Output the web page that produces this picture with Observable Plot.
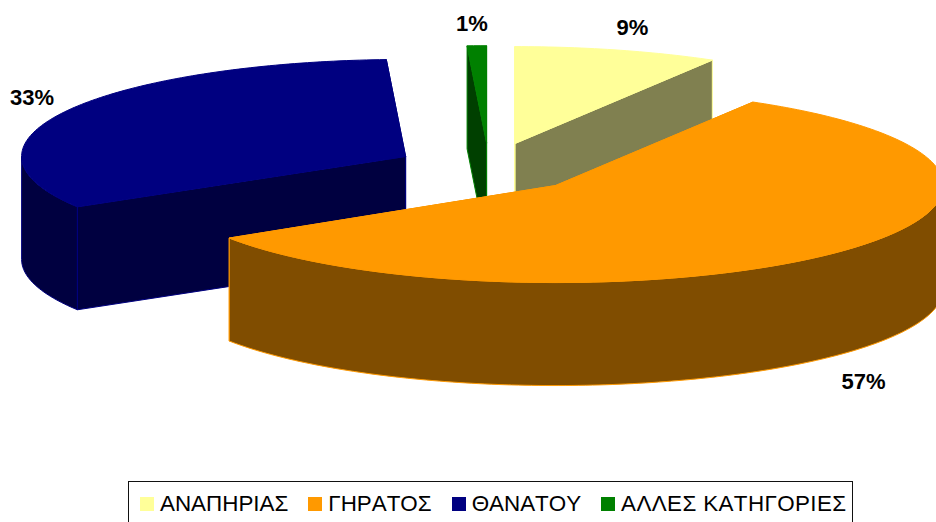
<!DOCTYPE html>
<html>
<head>
<meta charset="utf-8">
<script src="https://cdn.jsdelivr.net/npm/d3@7"></script>
<script src="https://cdn.jsdelivr.net/npm/@observablehq/plot@0.6"></script>
<style>
  html, body { margin: 0; padding: 0; background: #fff; overflow: hidden; }
  #wrap { width: 936px; height: 522px; overflow: hidden; position: relative; }
  svg { display: block; }
  #legend {
    box-sizing: border-box; margin-left: 128px; width: 725px; height: 60px;
    border: 1.5px solid #111; padding: 7px 0 0 11px; display: flex; align-items: flex-start;
    font: 22.4px "Liberation Sans", Arial, sans-serif; font-kerning: none; color: #000; white-space: nowrap; line-height: 30px;
  }
  #legend .sw { display: inline-block; width: 14px; height: 14px; margin: 8px 6px 0 0; flex: none; }
  #legend .lb { margin-right: 20px; }
  #legend .lb:last-child { letter-spacing: 0.38px; margin-right: 0; }
</style>
</head>
<body>
<div id="wrap"><div id="chart"></div><div id="legend"></div></div>
<script>
const categories = ["ΑΝΑΠΗΡΙΑΣ", "ΓΗΡΑΤΟΣ", "ΘΑΝΑΤΟΥ", "ΑΛΛΕΣ ΚΑΤΗΓΟΡΙΕΣ"];
const shares     = [8.5, 57.4, 33.3, 0.8];
const pctLabels  = ["9%", "57%", "33%", "1%"];
const topColors  = ["#ffff99", "#ff9900", "#000080", "#008000"];
const sideColors = ["#808050", "#804d00", "#000040", "#004000"];

// Pie projection (separate from the data)
const W = 936, H = 481;
const pie = {cx: 488.4, cy: 167.5, ry: 97, depth: 103, explodeX: 92.5, explodeY: 25.3};
const sliceRx = [388, 388, 384, 388];
const apexNudge = [1.5, 0, -1, 0];
const startNudge = [0, 0, 1.5, 0];
const labelRadius = {x: 429, y: 122};
const labelNudge = [[4.5, 2], [-1, 9], [8, -3], [-4, 3]];
const drawOrder = [2, 3, 0, 1];

const rad = d => d * Math.PI / 180;
let acc = 0;
const slices = shares.map((v, i) => {
  const a0 = acc; acc += v * 3.6;
  const a1 = acc, mid = (a0 + a1) / 2;
  return {
    i, a0: a0 + startNudge[i], a1, mid, rx: sliceRx[i],
    ax: pie.cx + pie.explodeX * Math.sin(rad(mid)) + apexNudge[i],
    ay: pie.cy - pie.explodeY * Math.cos(rad(mid))
  };
});
const rim = (s, a, dz = 0) => [s.ax + s.rx * Math.sin(rad(a)), s.ay - pie.ry * Math.cos(rad(a)) + dz];

const points = [];
function poly(id, pts, fill, stroke) {
  [...pts, pts[0]].forEach(([x, y]) => points.push({id, x, y, fill, stroke}));
}
function arc(s, a0, a1, dz = 0) {
  const out = [];
  const n = Math.max(1, Math.ceil(a1 - a0));
  for (let k = 0; k <= n; k++) out.push(rim(s, a0 + (a1 - a0) * k / n, dz));
  return out;
}
for (const idx of drawOrder) {
  const s = slices[idx], top = topColors[idx], side = sideColors[idx];
  const apex = [s.ax, s.ay], apexB = [s.ax, s.ay + pie.depth];
  // inner radial walls: the far one first
  poly(`${idx}-end`, [apex, rim(s, s.a1), rim(s, s.a1, pie.depth), apexB], side, top);
  poly(`${idx}-start`, [apex, rim(s, s.a0), rim(s, s.a0, pie.depth), apexB], side, top);
  // outer wall where it faces the viewer
  const f0 = Math.max(s.a0, 90), f1 = Math.min(s.a1, 270);
  if (f1 > f0) poly(`${idx}-outer`, [...arc(s, f0, f1), ...arc(s, f0, f1, pie.depth).reverse()], side, top);
  // top face
  poly(`${idx}-top`, [apex, ...arc(s, s.a0, s.a1)], top, top);
}

const labels = slices.map((s, i) => {
  const c = Math.cos(rad(s.mid));
  return {
    text: pctLabels[i],
    x: s.ax + labelRadius.x * Math.sin(rad(s.mid)) + labelNudge[i][0],
    y: s.ay - labelRadius.y * c + (c < 0 ? pie.depth : 0) + labelNudge[i][1]
  };
});

const chart = Plot.plot({
  width: W, height: H,
  margin: 0,
  x: {domain: [0, W], range: [0, W], axis: null},
  y: {domain: [0, H], range: [0, H], axis: null},
  marks: [
    Plot.line(points, {x: "x", y: "y", z: "id", fill: "fill", stroke: "stroke", strokeWidth: 1, curve: "linear", strokeLinejoin: "miter"}),
    Plot.text(labels, {x: "x", y: "y", text: "text", fontSize: 22, fontWeight: "bold", fontFamily: "Liberation Sans, Arial, sans-serif", fill: "#000"})
  ]
});
chart.style.background = "#fff";
document.getElementById("chart").appendChild(chart);

const legend = document.getElementById("legend");
categories.forEach((c, i) => {
  const sw = document.createElement("span"); sw.className = "sw"; sw.style.background = topColors[i];
  const lb = document.createElement("span"); lb.className = "lb"; lb.textContent = c;
  legend.append(sw, lb);
});
</script>
</body>
</html>
